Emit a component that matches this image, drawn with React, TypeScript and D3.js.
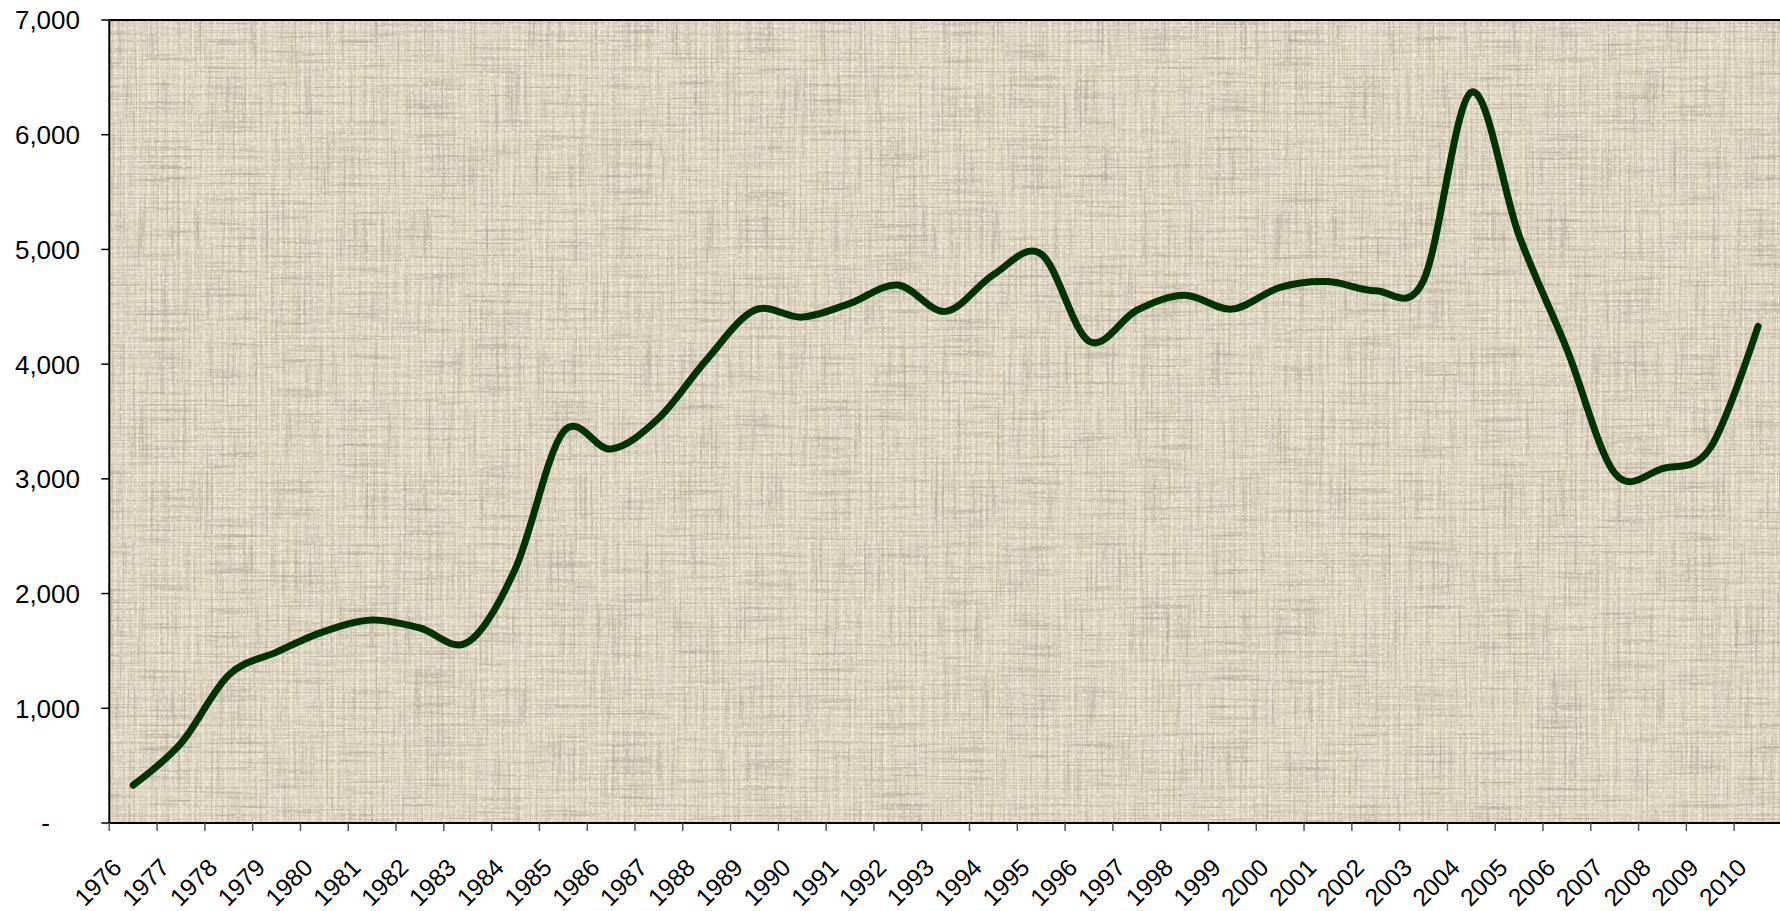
import React from "react";
import * as d3 from "d3";

// categories and values
const years = [
  "1976", "1977", "1978", "1979", "1980", "1981", "1982", "1983", "1984", "1985",
  "1986", "1987", "1988", "1989", "1990", "1991", "1992", "1993", "1994", "1995",
  "1996", "1997", "1998", "1999", "2000", "2001", "2002", "2003", "2004", "2005",
  "2006", "2007", "2008", "2009", "2010",
];
const values = [
  330, 695, 1290, 1490, 1670, 1770, 1700, 1575, 2220, 3410,
  3260, 3530, 4040, 4470, 4410, 4530, 4690, 4460, 4780, 4960,
  4200, 4470, 4600, 4480, 4670, 4720, 4640, 4730, 6370, 5120,
  4130, 3050, 3090, 3270, 4330,
];
const yTicks = [0, 1000, 2000, 3000, 4000, 5000, 6000, 7000];

const W = 1780;
const H = 911;
const left = 109.3;
const top = 20;
const bottom = 823;
const band = 47.79;
const font = "'Liberation Sans', Arial, sans-serif";

const App = () => {
  const xScale = d3
    .scaleBand<string>()
    .domain(years)
    .range([left, left + band * years.length])
    .padding(0);

  const yScale = d3.scaleLinear().domain([0, 7000]).range([bottom, top]);

  const fmt = d3.format(",");

  // line through the category centres, smoothed like a spreadsheet chart
  const line = d3
    .line<number>()
    .x((d, i) => (xScale(years[i]) as number) + xScale.bandwidth() / 2)
    .y((d) => yScale(d))
    .curve(d3.curveCardinal.tension(0));

  const right = left + band * years.length;
  const boundaries = years.map((y) => xScale(y) as number).concat([right]);
  const pw = right - left;
  const ph = bottom - top;

  return (
    <svg
      width={W}
      height={H}
      style={{ position: "absolute", left: 0, top: 0, background: "#fff" }}
    >
      <defs>
        <pattern id="linen" width="11" height="9" patternUnits="userSpaceOnUse">
          <rect width="11" height="9" fill="#e0d6c1" />
          <rect x="0" y="1" width="11" height="1" fill="#f1eadb" opacity="0.7" />
          <rect x="0" y="5" width="11" height="1" fill="#c9bea8" opacity="0.45" />
          <rect x="0" y="7" width="11" height="1" fill="#efe8d7" opacity="0.5" />
          <rect x="2" y="0" width="1" height="9" fill="#c6baa3" opacity="0.45" />
          <rect x="5" y="0" width="1" height="9" fill="#f3ecdd" opacity="0.7" />
          <rect x="8" y="0" width="1" height="9" fill="#ccc1ab" opacity="0.4" />
        </pattern>
        <filter id="hgrain" x="0" y="0" width="100%" height="100%">
          <feTurbulence type="fractalNoise" baseFrequency="0.015 0.45" numOctaves="2" seed="4" />
          <feColorMatrix
            type="matrix"
            values="0 0 0 0 0.42  0 0 0 0 0.38  0 0 0 0 0.30  2.2 0 0 0 -1.15"
          />
        </filter>
        <filter id="vgrain" x="0" y="0" width="100%" height="100%">
          <feTurbulence type="fractalNoise" baseFrequency="0.45 0.015" numOctaves="2" seed="9" />
          <feColorMatrix
            type="matrix"
            values="0 0 0 0 0.42  0 0 0 0 0.38  0 0 0 0 0.30  2.2 0 0 0 -1.15"
          />
        </filter>
        <filter id="light" x="0" y="0" width="100%" height="100%">
          <feTurbulence type="fractalNoise" baseFrequency="0.35 0.35" numOctaves="1" seed="2" />
          <feColorMatrix
            type="matrix"
            values="0 0 0 0 0.97  0 0 0 0 0.95  0 0 0 0 0.9  0 2.4 0 0 -1.3"
          />
        </filter>
      </defs>

      {/* plot area */}
      <rect x={left} y={top} width={pw} height={ph} fill="url(#linen)" />
      <rect x={left} y={top} width={pw} height={ph} fill="#000" filter="url(#hgrain)" />
      <rect x={left} y={top} width={pw} height={ph} fill="#000" filter="url(#vgrain)" />
      <rect x={left} y={top} width={pw} height={ph} fill="#000" filter="url(#light)" />
      <rect x={left} y={top} width={pw} height={ph} fill="none" stroke="#000" strokeWidth={2} />

      {/* y axis */}
      <g>
        {yTicks.map((t) => (
          <g key={t}>
            <line x1={left - 8} x2={left} y1={yScale(t)} y2={yScale(t)} stroke="#000" strokeWidth={1.5} />
            <text
              x={t === 0 ? 50 : 80}
              y={yScale(t)}
              dy="0.36em"
              textAnchor="end"
              fontFamily={font}
              fontSize={26}
              fill="#000"
            >
              {t === 0 ? "-" : fmt(t)}
            </text>
          </g>
        ))}
      </g>

      {/* x axis */}
      <g>
        {boundaries.map((b, i) => (
          <line key={i} x1={b} x2={b} y1={bottom} y2={bottom + 8} stroke="#555" strokeWidth={1.5} />
        ))}
        {years.map((y) => {
          const cx = (xScale(y) as number) + xScale.bandwidth() / 2;
          return (
            <text
              key={y}
              transform={`translate(${cx - 10},869) rotate(-45)`}
              textAnchor="end"
              fontFamily={font}
              fontSize={24.5}
              fill="#000"
            >
              {y}
            </text>
          );
        })}
      </g>

      <path
        d={line(values) || ""}
        fill="none"
        stroke="#003300"
        strokeWidth={7}
        strokeLinecap="round"
        strokeLinejoin="round"
      />
    </svg>
  );
};

export default App;
